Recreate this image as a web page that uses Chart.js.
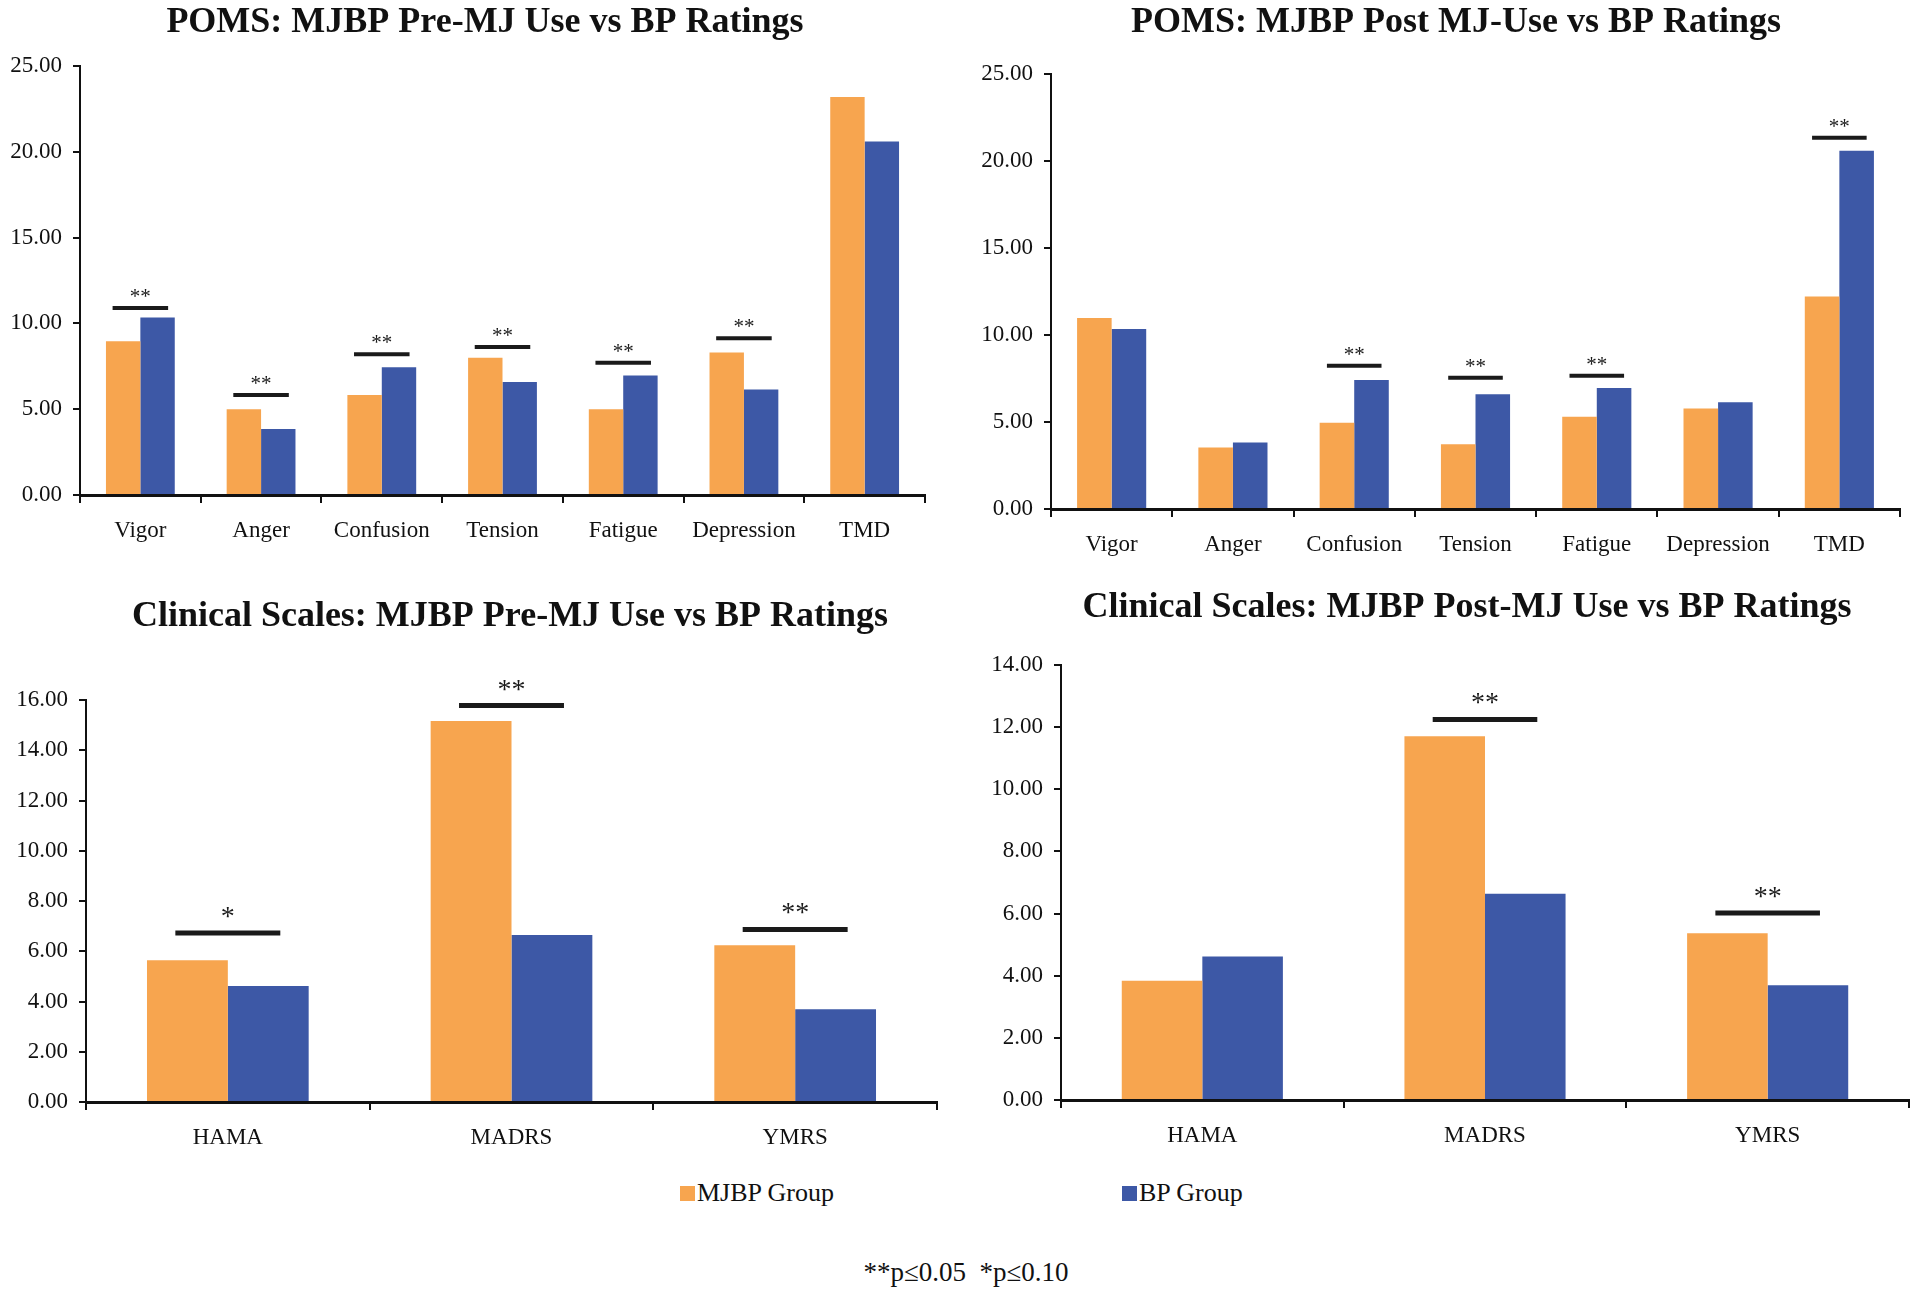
<!DOCTYPE html>
<html>
<head>
<meta charset="utf-8">
<script src="https://cdn.jsdelivr.net/npm/chart.js@4.4.0/dist/chart.umd.min.js"></script>
<style>
  html, body { margin: 0; padding: 0; background: #fff; }
  body { width: 1920px; height: 1294px; position: relative; overflow: hidden; font-family: 'Liberation Serif', 'Times New Roman', serif; }
  .panel { position: absolute; width: 960px; height: 580px; }
  .legend { position: absolute; top: 1178px; font-size: 26px; color: #111; display: flex; align-items: center; }
  .legend .box { width: 15px; height: 15px; display: inline-block; margin-right: 2px; }
  .note { position: absolute; top: 1257px; left: 0; width: 1932px; text-align: center; font-size: 27px; color: #111; }
</style>
</head>
<body>
<div class="panel" style="left:0;top:0"><canvas id="pomsPre" width="960" height="580"></canvas></div>
<div class="panel" style="left:960px;top:0"><canvas id="pomsPost" width="960" height="580"></canvas></div>
<div class="panel" style="left:0;top:580px"><canvas id="clinPre" width="960" height="580"></canvas></div>
<div class="panel" style="left:960px;top:580px"><canvas id="clinPost" width="960" height="580"></canvas></div>

<div class="legend" style="left:680px"><span class="box" style="background:#F7A54F"></span>MJBP Group</div>
<div class="legend" style="left:1122px"><span class="box" style="background:#3D58A6"></span>BP Group</div>
<div class="note">**p≤0.05&nbsp;&nbsp;*p≤0.10</div>

<script>
// Categories
const pomsLabels = ['Vigor', 'Anger', 'Confusion', 'Tension', 'Fatigue', 'Depression', 'TMD'];
const clinicalLabels = ['HAMA', 'MADRS', 'YMRS'];
const seriesNames = ['MJBP Group', 'BP Group'];

// POMS pre-MJ use
const pomsPreMJBP = [8.96, 5.00, 5.83, 8.00, 5.00, 8.31, 23.19];
const pomsPreBP = [10.35, 3.85, 7.44, 6.58, 6.96, 6.15, 20.60];
const pomsPreSig = ['**', '**', '**', '**', '**', '**', ''];
const pomsPreSigLevel = [10.9, 5.83, 8.2, 8.63, 7.7, 9.13, null];

// POMS post-MJ use
const pomsPostMJBP = [10.98, 3.53, 4.95, 3.72, 5.30, 5.77, 12.21];
const pomsPostBP = [10.34, 3.82, 7.41, 6.59, 6.96, 6.14, 20.59];
const pomsPostSig = ['', '', '**', '**', '**', '', '**'];
const pomsPostSigLevel = [null, null, 8.23, 7.55, 7.66, null, 21.33];

// Clinical scales pre-MJ use
const clinPreMJBP = [5.64, 15.16, 6.24];
const clinPreBP = [4.62, 6.65, 3.69];
const clinPreSig = ['*', '**', '**'];
const clinPreSigLevel = [6.73, 15.78, 6.87];

// Clinical scales post-MJ use
const clinPostMJBP = [3.84, 11.71, 5.37];
const clinPostBP = [4.62, 6.64, 3.69];
const clinPostSig = ['', '**', '**'];
const clinPostSigLevel = [null, 12.25, 6.02];

const ORANGE = '#F7A54F';
const BLUE = '#3D58A6';
const FONT = "'Liberation Serif', 'Times New Roman', serif";

// Panel title, drawn at a fixed spot so it does not move the axes
const titlePlugin = {
  id: 'panelTitle',
  afterDraw(chart, args, opts) {
    const ctx = chart.ctx;
    ctx.save();
    ctx.fillStyle = '#111';
    ctx.font = 'bold 36px ' + FONT;
    ctx.textAlign = 'center';
    ctx.textBaseline = 'middle';
    ctx.fillText(opts.text, opts.x, opts.y);
    ctx.restore();
  }
};

// Significance bar and stars above each flagged category
const sigPlugin = {
  id: 'sigBars',
  afterDatasetsDraw(chart, args, opts) {
    const ctx = chart.ctx;
    const xs = chart.scales.x;
    const ys = chart.scales.y;
    const catW = xs.getPixelForValue(1) - xs.getPixelForValue(0);
    ctx.save();
    opts.marks.forEach((mark, i) => {
      if (!mark) return;
      const cx = xs.getPixelForValue(i);
      const py = ys.getPixelForValue(opts.levels[i]);
      const half = catW * opts.lineFrac / 2;
      ctx.strokeStyle = '#1a1a1a';
      ctx.lineWidth = opts.lineWidth;
      ctx.beginPath();
      ctx.moveTo(cx - half, py);
      ctx.lineTo(cx + half, py);
      ctx.stroke();
      ctx.fillStyle = '#1a1a1a';
      ctx.font = opts.starSize + 'px ' + FONT;
      ctx.textAlign = 'center';
      ctx.textBaseline = 'alphabetic';
      ctx.fillText(mark, cx, py - opts.starGap);
    });
    ctx.restore();
  }
};

function makeChart(id, cfg) {
  return new Chart(document.getElementById(id), {
    type: 'bar',
    data: {
      labels: cfg.labels,
      datasets: [
        { label: seriesNames[0], data: cfg.a, backgroundColor: ORANGE },
        { label: seriesNames[1], data: cfg.b, backgroundColor: BLUE }
      ]
    },
    options: {
      responsive: false,
      animation: false,
      categoryPercentage: 0.57,
      barPercentage: 1.0,
      layout: { padding: cfg.pad },
      plugins: {
        legend: { display: false },
        tooltip: { enabled: false },
        title: { display: false },
        panelTitle: { text: cfg.title, x: cfg.titleX, y: cfg.titleY },
        sigBars: {
          marks: cfg.sig,
          levels: cfg.sigLevel,
          lineFrac: cfg.lineFrac,
          lineWidth: cfg.lineWidth,
          starSize: cfg.starSize,
          starGap: cfg.starGap
        }
      },
      scales: {
        x: {
          afterFit: (s) => { s.height = 55; },
          grid: { display: true, drawOnChartArea: false, drawTicks: true, tickLength: 8, color: '#111', lineWidth: 2, offset: true },
          border: { display: true, color: '#111', width: 3 },
          ticks: { color: '#111', font: { family: FONT, size: 23 }, padding: 14, maxRotation: 0, autoSkip: false }
        },
        y: {
          min: 0,
          max: cfg.max,
          afterFit: (s) => { s.width = cfg.yw; },
          grid: { display: true, drawOnChartArea: false, drawTicks: true, tickLength: 7, color: '#111', lineWidth: 2 },
          border: { display: true, color: '#111', width: 2 },
          ticks: {
            stepSize: cfg.step,
            color: '#111',
            padding: 11,
            font: { family: FONT, size: 23 },
            callback: (v) => Number(v).toFixed(2)
          }
        }
      }
    },
    plugins: [sigPlugin, titlePlugin]
  });
}

makeChart('pomsPre', {
  labels: pomsLabels, a: pomsPreMJBP, b: pomsPreBP, sig: pomsPreSig, sigLevel: pomsPreSigLevel,
  title: 'POMS: MJBP Pre-MJ Use vs BP Ratings', max: 25, step: 5,
  pad: { left: 0, right: 35, top: 66, bottom: 30 }, yw: 80, titleX: 485, titleY: 23,
  lineFrac: 0.46, lineWidth: 4, starSize: 21, starGap: 5
});

makeChart('pomsPost', {
  labels: pomsLabels, a: pomsPostMJBP, b: pomsPostBP, sig: pomsPostSig, sigLevel: pomsPostSigLevel,
  title: 'POMS: MJBP Post MJ-Use vs BP Ratings', max: 25, step: 5,
  pad: { left: 0, right: 20, top: 74, bottom: 16 }, yw: 91, titleX: 496, titleY: 23,
  lineFrac: 0.45, lineWidth: 4, starSize: 21, starGap: 5
});

makeChart('clinPre', {
  labels: clinicalLabels, a: clinPreMJBP, b: clinPreBP, sig: clinPreSig, sigLevel: clinPreSigLevel,
  title: 'Clinical Scales: MJBP Pre-MJ Use vs BP Ratings', max: 16, step: 2,
  pad: { left: 0, right: 23, top: 120, bottom: 3 }, yw: 86, titleX: 510, titleY: 37,
  lineFrac: 0.37, lineWidth: 5, starSize: 28, starGap: 8
});

makeChart('clinPost', {
  labels: clinicalLabels, a: clinPostMJBP, b: clinPostBP, sig: clinPostSig, sigLevel: clinPostSigLevel,
  title: 'Clinical Scales: MJBP Post-MJ Use vs BP Ratings', max: 14, step: 2,
  pad: { left: 0, right: 11, top: 85, bottom: 5 }, yw: 101, titleX: 507, titleY: 28,
  lineFrac: 0.37, lineWidth: 5, starSize: 28, starGap: 8
});
</script>
</body>
</html>
